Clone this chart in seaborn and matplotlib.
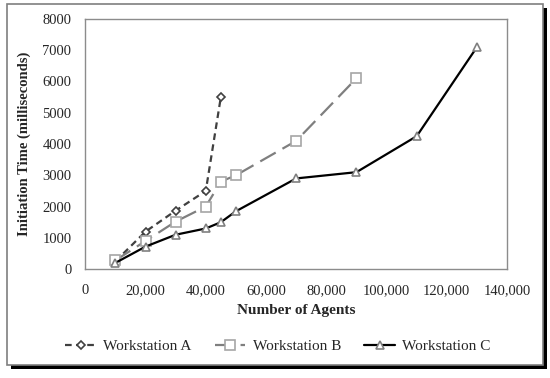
import numpy as np
import pandas as pd
import matplotlib
matplotlib.use("Agg")
import matplotlib.pyplot as plt
import seaborn as sns
from matplotlib.patches import Rectangle

# data
agents_a = [10000, 20000, 30000, 40000, 45000]
time_a = [250, 1200, 1870, 2500, 5500]

agents_b = [10000, 20000, 30000, 40000, 45000, 50000, 70000, 90000]
time_b = [280, 900, 1520, 2000, 2800, 3000, 4100, 6100]

agents_c = [10000, 20000, 30000, 40000, 45000, 50000, 70000, 90000, 110000, 130000]
time_c = [200, 720, 1100, 1300, 1500, 1850, 2900, 3100, 4250, 7100]

sns.set_style("white")
plt.rcParams['font.family'] = ['Liberation Serif', 'DejaVu Serif']

fig = plt.figure(figsize=(5.5, 3.78), dpi=100)
ax = fig.add_axes([0.155, 0.288, 0.767, 0.662])

# frame with drop shadow round the whole figure
shadow = Rectangle((11 / 550, 1 - 369 / 378), 536 / 550, 361 / 378,
                   transform=fig.transFigure, facecolor="black", edgecolor="none", zorder=-2)
frame = Rectangle((7 / 550, 1 - 365 / 378), 536 / 550, 361 / 378,
                  transform=fig.transFigure, facecolor="white", edgecolor="#7f7f7f",
                  linewidth=1.2, zorder=-1)
fig.patches.extend([shadow, frame])

series = [
    ("Workstation A", agents_a, time_a, "#404040", (0, (3, 2)), "D", 4.5),
    ("Workstation B", agents_b, time_b, "#7f7f7f", (0, (8, 3.5)), "s", 6.5),
    ("Workstation C", agents_c, time_c, "black", "-", "^", 6.0),
]
marker_edge = {"Workstation A": "#404040", "Workstation B": "#a6a6a6", "Workstation C": "#808080"}

for name, xs, ys, col, ls, mk, ms in series:
    df = pd.DataFrame({"agents": xs, "time": ys})
    sns.lineplot(data=df, x="agents", y="time", ax=ax, color=col, linestyle=ls,
                 linewidth=1.6, marker=mk, markersize=ms, markerfacecolor="white",
                 markeredgecolor=marker_edge[name], markeredgewidth=1.2, label=name)

ax.set_xlim(0, 140000)
ax.set_ylim(0, 8000)
ax.set_xticks(np.arange(0, 140001, 20000))
ax.set_xticklabels([f"{v:,}" for v in range(0, 140001, 20000)])
ax.set_yticks(np.arange(0, 8001, 1000))
ax.tick_params(axis="both", labelsize=10.5, length=0, colors="#262626")
ax.tick_params(axis="x", pad=11)
ax.tick_params(axis="y", pad=10)
for s in ax.spines.values():
    s.set_color("#8c8c8c")
    s.set_linewidth(1.0)

ax.set_xlabel("Number of Agents", fontsize=11, fontweight="bold", labelpad=5)
ax.set_ylabel("Initiation Time (milliseconds)", fontsize=10.5, fontweight="bold", labelpad=8)

ax.legend(loc="upper center", bbox_to_anchor=(0.457, -0.225), ncol=3, frameon=False,
          fontsize=11, handlelength=2.0, columnspacing=1.5, handletextpad=0.5)

fig.savefig("out.png", dpi=100)
